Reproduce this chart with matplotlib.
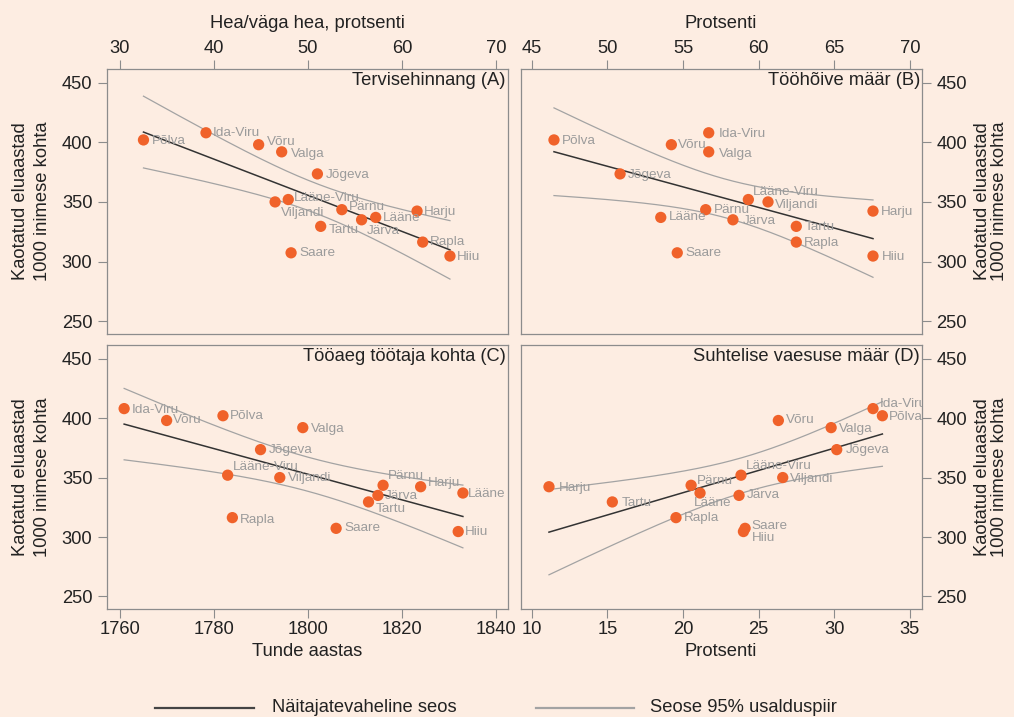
import numpy as np
import matplotlib
matplotlib.use("Agg")
import matplotlib.pyplot as plt
from matplotlib.lines import Line2D

plt.rcParams['font.family'] = ['Liberation Sans', 'DejaVu Sans']

# ---------------- data ----------------
regions = ["Põlva", "Ida-Viru", "Võru", "Valga", "Jõgeva", "Lääne-Viru", "Viljandi",
           "Pärnu", "Lääne", "Järva", "Tartu", "Harju", "Rapla", "Hiiu", "Saare"]
mortality = [402, 408, 398, 392, 373.5, 352, 350, 343.5, 337, 335, 329.5, 342.3, 316.3, 304.6, 307.3]

health_good = [32.5, 39.15, 44.75, 47.2, 51.0, 47.9, 46.5, 53.6, 57.2, 55.7, 51.35, 61.6, 62.2, 65.1, 48.2]
employment_rate = [46.47, 56.7, 54.23, 56.7, 50.84, 59.32, 60.62, 56.5, 53.53, 58.3, 62.49, 67.56, 62.49, 67.56, 54.62]
work_hours = [1781.9, 1760.85, 1769.9, 1798.9, 1789.9, 1782.9, 1794.0, 1816.0, 1833.0, 1814.9, 1812.9, 1824.0,
              1783.9, 1832.0, 1806.0]
poverty_rate = [33.19, 32.57, 26.31, 29.8, 30.17, 23.84, 26.6, 20.54, 21.13, 23.71, 15.33, 11.14, 19.54, 24.0, 24.11]

panel_titles = ["Tervisehinnang (A)", "Tööhõive määr (B)", "Tööaeg töötaja kohta (C)", "Suhtelise vaesuse määr (D)"]
x_axis_labels = ["Hea/väga hea, protsenti", "Protsenti", "Tunde aastas", "Protsenti"]
x_ticks_A = [30, 40, 50, 60, 70]
x_ticks_B = [45, 50, 55, 60, 65, 70]
x_ticks_C = [1760, 1780, 1800, 1820, 1840]
x_ticks_D = [10, 15, 20, 25, 30, 35]
y_ticks = [250, 300, 350, 400, 450]
y_label_lines = ["Kaotatud eluaastad", "1000 inimese kohta"]
legend_labels = ["Näitajatevaheline seos", "Seose 95% usalduspiir"]

# ---------------- styling ----------------
BG = '#FDEDE2'
ORANGE = '#F0622A'
LABEL_GRAY = '#9b9b9b'
SPINE = '#8c8c8c'
TEXT = '#222222'
W, H = 1014, 717

# label offsets (pixels: dx right, dy up)
offsets_A = {"Põlva": (8, -1), "Ida-Viru": (7, 0), "Võru": (8, 3), "Valga": (9, -2), "Jõgeva": (8, -1),
             "Lääne-Viru": (6, 2), "Viljandi": (6, -11), "Pärnu": (7, 3), "Lääne": (7, -1), "Järva": (5, -11),
             "Tartu": (8, -4), "Harju": (7, -1), "Rapla": (7, 0), "Hiiu": (7, -1), "Saare": (8, 0)}
offsets_B = {"Põlva": (8, -1), "Ida-Viru": (10, -1), "Võru": (7, 0), "Valga": (10, -2), "Jõgeva": (8, -1),
             "Lääne-Viru": (5, 8), "Viljandi": (7, -3), "Pärnu": (8, 0), "Lääne": (8, 0), "Järva": (10, -1),
             "Tartu": (8, -1), "Harju": (8, -1), "Rapla": (8, -1), "Hiiu": (9, -1), "Saare": (8, 0)}
offsets_C = {"Ida-Viru": (8, -1), "Võru": (6, 0), "Põlva": (7, 0), "Valga": (8, -1), "Jõgeva": (8, 0),
             "Lääne-Viru": (5, 8), "Viljandi": (8, 0), "Pärnu": (5, 9), "Harju": (7, 4), "Lääne": (5, -1),
             "Järva": (7, -1), "Tartu": (7, -7), "Rapla": (8, -2), "Saare": (8, 0), "Hiiu": (7, 0)}
offsets_D = {"Harju": (10, -1), "Tartu": (9, -1), "Rapla": (8, 0), "Pärnu": (6, 4), "Lääne": (-6, -10),
             "Järva": (8, 0), "Lääne-Viru": (5, 9), "Saare": (6, 2), "Hiiu": (8, -6), "Võru": (8, 0),
             "Viljandi": (7, -1), "Valga": (8, -1), "Jõgeva": (9, 0), "Ida-Viru": (7, 5), "Põlva": (6, -1)}


def fit_ci(x, y, t=2.160):
    x = np.asarray(x, float)
    y = np.asarray(y, float)
    n = len(x)
    b, a = np.polyfit(x, y, 1)
    resid = y - (a + b * x)
    s = np.sqrt(np.sum(resid ** 2) / (n - 2))
    xs = np.linspace(x.min(), x.max(), 200)
    yhat = a + b * xs
    se = s * np.sqrt(1 / n + (xs - x.mean()) ** 2 / np.sum((x - x.mean()) ** 2))
    return xs, yhat, yhat - t * se, yhat + t * se


def rect(l, t, r, b):
    return [l / W, 1 - b / H, (r - l) / W, (b - t) / H]


fig = plt.figure(figsize=(W / 100, H / 100), dpi=100, facecolor=BG)

panels = [
    (health_good, x_ticks_A, (28.62, 71.22), rect(107, 69, 507.5, 334), 'top', 'left', offsets_A),
    (employment_rate, x_ticks_B, (44.29, 70.8), rect(521, 69, 922, 334), 'top', 'right', offsets_B),
    (work_hours, x_ticks_C, (1757.2, 1842.5), rect(107, 345, 507.5, 609.3), 'bottom', 'left', offsets_C),
    (poverty_rate, x_ticks_D, (9.29, 35.81), rect(521, 345, 922, 609.3), 'bottom', 'right', offsets_D),
]

for i, (xv, xt, xlim, r, xpos, ypos, offs) in enumerate(panels):
    ax = fig.add_axes(r)
    ax.set_facecolor(BG)
    xs, yhat, lo, hi = fit_ci(xv, mortality)
    ax.plot(xs, hi, color='#a3a3a3', lw=0.9, zorder=2)
    ax.plot(xs, lo, color='#a3a3a3', lw=0.9, zorder=2)
    ax.plot(xs, yhat, color='#333333', lw=1.1, zorder=2)
    ax.scatter(xv, mortality, s=66, color=ORANGE, edgecolors='none', zorder=3)
    for name, xx, yy in zip(regions, xv, mortality):
        dx, dy = offs[name]
        ax.annotate(name, (xx, yy), xytext=(dx, dy), textcoords='offset pixels',
                    ha='left', va='center', fontsize=9.7, color=LABEL_GRAY, zorder=4,
                    annotation_clip=False, clip_on=True)
    ax.set_xlim(*xlim)
    ax.set_ylim(239.2, 461.5)
    ax.set_xticks(xt)
    ax.set_yticks(y_ticks)
    if xpos == 'top':
        ax.xaxis.tick_top()
    else:
        ax.xaxis.tick_bottom()
    if ypos == 'right':
        ax.yaxis.tick_right()
    else:
        ax.yaxis.tick_left()
    ax.tick_params(direction='out', length=6.5, width=0.8, color=SPINE, labelsize=13.2,
                   labelcolor=TEXT, pad=4)
    ax.tick_params(axis='x', pad=2)
    for sp in ax.spines.values():
        sp.set_color(SPINE)
        sp.set_linewidth(0.9)
    ax.annotate(panel_titles[i], (1, 1), xycoords='axes fraction', xytext=(-2, -3),
                textcoords='offset pixels', ha='right', va='top', fontsize=13.2, color=TEXT)

# axis titles
fig.text(307 / W, 1 - 24 / H, x_axis_labels[0], ha='center', va='center', fontsize=13.2, color=TEXT)
fig.text(721 / W, 1 - 24 / H, x_axis_labels[1], ha='center', va='center', fontsize=13.2, color=TEXT)
fig.text(307 / W, 1 - 652 / H, x_axis_labels[2], ha='center', va='center', fontsize=13.2, color=TEXT)
fig.text(721 / W, 1 - 652 / H, x_axis_labels[3], ha='center', va='center', fontsize=13.2, color=TEXT)

# y labels (both rows, both sides)
for yc in (201, 477):
    fig.text(21 / W, 1 - yc / H, y_label_lines[0], rotation=90, ha='center', va='center', fontsize=13.2, color=TEXT)
    fig.text(42.5 / W, 1 - yc / H, y_label_lines[1], rotation=90, ha='center', va='center', fontsize=13.2, color=TEXT)
    fig.text(982.5 / W, 1 - yc / H, y_label_lines[0], rotation=90, ha='center', va='center', fontsize=13.2, color=TEXT)
    fig.text(999 / W, 1 - yc / H, y_label_lines[1], rotation=90, ha='center', va='center', fontsize=13.2, color=TEXT)

# legend
ly = 1 - 708 / H
fig.add_artist(Line2D([155 / W, 253.5 / W], [ly, ly], color='#444444', lw=1.6))
fig.text(272 / W, ly, legend_labels[0], ha='left', va='center', fontsize=13.2, color=TEXT)
fig.add_artist(Line2D([535.6 / W, 634 / W], [ly, ly], color='#a3a3a3', lw=1.6))
fig.text(650 / W, ly, legend_labels[1], ha='left', va='center', fontsize=13.2, color=TEXT)

fig.savefig('out.png', dpi=100, facecolor=BG)
